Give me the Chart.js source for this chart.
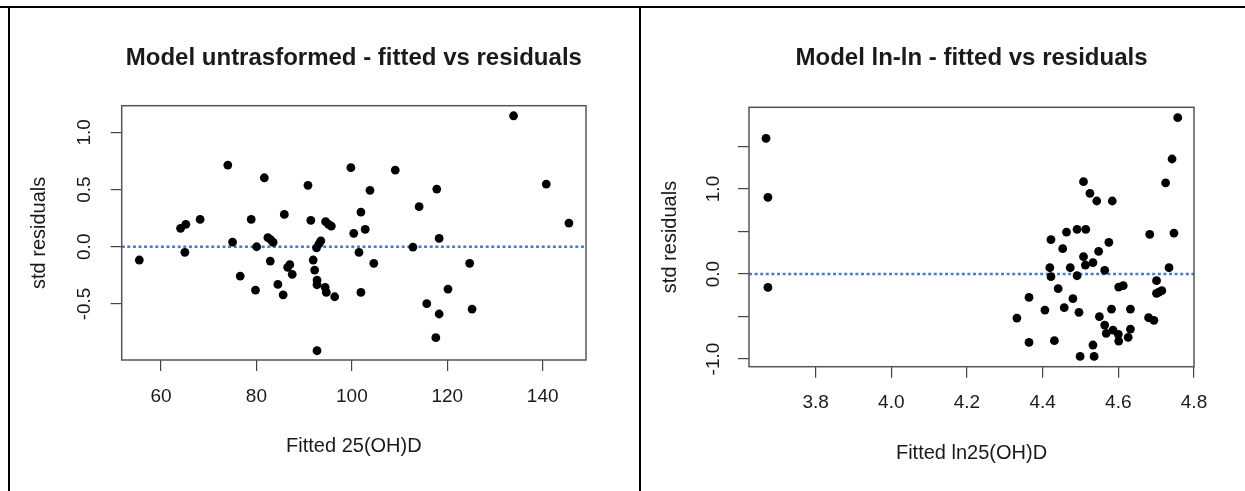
<!DOCTYPE html>
<html>
<head>
    <title>Fitted vs residuals</title>
    <script src="https://cdn.jsdelivr.net/npm/chart.js@4.4.0/dist/chart.umd.min.js"></script>
    <style>
        body { margin: 0; background: white; }
        #page { position: relative; width: 1245px; height: 491px; overflow: hidden; background: white; }
        .rule { position: absolute; background: black; }
        canvas { position: absolute; top: 0; }
    </style>
</head>
<body>
<div id="page">
    <div class="rule" style="left:0; top:6px; width:1245px; height:2px;"></div>
    <div class="rule" style="left:8px; top:6px; width:2px; height:485px;"></div>
    <div class="rule" style="left:639px; top:6px; width:2px; height:485px;"></div>
    <canvas id="leftPlot" width="639" height="491" style="left:0;"></canvas>
    <canvas id="rightPlot" width="604" height="491" style="left:641px;"></canvas>
</div>
<script>
    // left model: untransformed
    const leftFitted = [55.45, 64.1, 65.2, 65.0, 68.2, 74.0, 75.0, 76.6, 78.9, 79.8, 80.05, 81.65, 82.4, 83.05, 83.5, 82.9, 84.5, 85.6, 85.85, 86.55,
        87.0, 87.5, 90.8, 91.4, 91.9, 92.2, 92.7, 92.7, 92.6, 93.1, 93.5, 92.7, 94.5, 95.1, 95.7, 94.4, 94.65, 96.4, 99.8, 100.4,
        101.5, 101.9, 102.8, 101.9, 103.8, 104.6, 109.1, 112.8, 114.1, 115.7, 117.8, 117.6, 118.3, 118.3, 120.15, 124.7, 125.2, 133.9, 140.75, 145.5];
    const leftResid = [-0.116, 0.161, 0.196, -0.049, 0.239, 0.714, 0.041, -0.256, 0.239, -0.379, 0.0, 0.603, 0.079, 0.059, 0.038, -0.125, -0.329, -0.42, 0.283, -0.18,
        -0.157, -0.241, 0.537, 0.231, -0.116, -0.204, -0.291, -0.332, -0.009, 0.024, 0.052, -0.909, 0.219, 0.196, 0.181, -0.355, -0.399, -0.437, 0.691, 0.117,
        -0.049, 0.303, 0.152, -0.399, 0.493, -0.145, 0.670, -0.003, 0.35, -0.498, 0.504, -0.795, 0.073, -0.588, -0.37, -0.145, -0.545, 1.145, 0.548, 0.207];
    const leftXTicks = [60, 80, 100, 120, 140];
    const leftXLabels = ['60', '80', '100', '120', '140'];
    const leftYTicks = [-0.5, 0, 0.5, 1.0];
    const leftYLabels = ['-0.5', '0.0', '0.5', '1.0'];

    // right model: ln-ln
    const rightFitted = [3.669, 3.674, 3.674, 4.757, 4.742, 4.725, 4.747, 4.734, 4.701, 4.715, 4.701, 4.707, 4.683, 4.680, 4.694,
        4.508, 4.525, 4.543, 4.584, 4.422, 4.463, 4.491, 4.514, 4.453, 4.575, 4.548, 4.508, 4.513, 4.533, 4.473, 4.419, 4.422, 4.491, 4.564,
        4.601, 4.613, 4.441, 4.480, 4.364, 4.406, 4.457, 4.496, 4.332, 4.582, 4.632, 4.550, 4.564, 4.568, 4.586, 4.600, 4.601, 4.626, 4.632,
        4.364, 4.431, 4.533, 4.499, 4.536];
    const rightResid = [1.596, 0.902, -0.157, 1.839, 1.353, 1.071, 0.482, 0.074, -0.078, -0.196, -0.227, -0.212, 0.467, -0.514, -0.545,
        1.086, 0.949, 0.859, 0.859, 0.404, 0.494, 0.526, 0.526, 0.298, 0.373, 0.267, 0.204, 0.106, 0.133, 0.074, 0.074, -0.031, -0.020, 0.043,
        -0.153, -0.137, -0.172, -0.290, -0.275, -0.424, -0.396, -0.451, -0.518, -0.412, -0.412, -0.502, -0.600, -0.698, -0.659, -0.709, -0.788, -0.745, -0.647,
        -0.804, -0.784, -0.835, -0.969, -0.969];
    const rightXTicks = [3.8, 4.0, 4.2, 4.4, 4.6, 4.8];
    const rightXLabels = ['3.8', '4.0', '4.2', '4.4', '4.6', '4.8'];
    const rightYTicks = [-1.0, -0.5, 0, 0.5, 1.0, 1.5];
    const rightYLabels = ['-1.0', '', '0.0', '', '1.0', ''];

    const FONT = '"Liberation Sans", Arial, Helvetica, sans-serif';
    const INK = '#1a1a1a';

    // R-style rotated y tick labels, placed with the y scale
    const rotatedYLabels = {
        id: 'rotatedYLabels',
        afterDraw(chart, args, opts) {
            const ys = chart.scales.y;
            const ctx = chart.ctx;
            ctx.save();
            ctx.font = '19px ' + FONT;
            ctx.fillStyle = INK;
            ctx.textAlign = 'center';
            ctx.textBaseline = 'middle';
            ys.ticks.forEach(t => {
                if (!t.label) return;
                ctx.save();
                ctx.translate(ys.right - opts.gap, ys.getPixelForValue(t.value));
                ctx.rotate(-Math.PI / 2);
                ctx.fillText(t.label, 0, 0);
                ctx.restore();
            });
            ctx.restore();
        }
    };
    // box around plot region
    const plotBox = {
        id: 'plotBox',
        afterDraw(chart) {
            const a = chart.chartArea;
            const ctx = chart.ctx;
            ctx.save();
            ctx.strokeStyle = '#555';
            ctx.lineWidth = 1.5;
            ctx.strokeRect(a.left, a.top, a.right - a.left, a.bottom - a.top);
            ctx.restore();
        }
    };

    function makePlot(id, cfg) {
        var points = cfg.xs.map((x, i) => ({x: x, y: cfg.ys[i]}));
        return new Chart(document.getElementById(id), {
            type: 'scatter',
            data: {
                datasets: [{
                    data: points,
                    backgroundColor: 'black',
                    borderWidth: 0,
                    pointRadius: 4.4,
                    pointHoverRadius: 4.4
                }, {
                    type: 'line',
                    data: [{x: cfg.xmin, y: 0}, {x: cfg.xmax, y: 0}],
                    borderColor: '#4a7cc0',
                    borderWidth: 2.5,
                    borderDash: [3, 2.6],
                    pointRadius: 0,
                    fill: false
                }]
            },
            options: {
                responsive: false,
                animation: false,
                devicePixelRatio: 1,
                layout: { padding: { left: 0, right: cfg.padRight, top: 0, bottom: 0 } },
                plugins: {
                    legend: { display: false },
                    tooltip: { enabled: false },
                    title: {
                        display: true,
                        text: cfg.title,
                        fullSize: false,
                        color: INK,
                        font: { family: FONT, size: 24, weight: 'bold' },
                        padding: { top: cfg.titleTop, bottom: cfg.titleBottom }
                    },
                    rotatedYLabels: { gap: cfg.yLabelGap }
                },
                scales: {
                    x: {
                        type: 'linear',
                        min: cfg.xmin,
                        max: cfg.xmax,
                        afterBuildTicks: s => { s.ticks = cfg.xTicks.map(v => ({value: v})); },
                        afterFit: s => { s.height = cfg.xAxisHeight; },
                        ticks: {
                            callback: (v, i) => cfg.xLabels[i],
                            color: INK,
                            font: { family: FONT, size: 19 },
                            padding: 14,
                            maxRotation: 0,
                            autoSkip: false
                        },
                        grid: { drawOnChartArea: false, drawTicks: true, tickLength: 11, color: '#444', lineWidth: 1.2 },
                        border: { display: false },
                        title: {
                            display: true,
                            text: cfg.xTitle,
                            color: INK,
                            font: { family: FONT, size: 20 },
                            padding: { top: 0, bottom: cfg.xTitlePad }
                        }
                    },
                    y: {
                        type: 'linear',
                        min: cfg.ymin,
                        max: cfg.ymax,
                        afterBuildTicks: s => { s.ticks = cfg.yTicks.map(v => ({value: v})); },
                        afterFit: s => { s.width = cfg.yAxisWidth; },
                        ticks: {
                            display: false,
                            callback: (v, i) => cfg.yLabels[i]
                        },
                        grid: { drawOnChartArea: false, drawTicks: true, tickLength: 11, color: '#444', lineWidth: 1.2 },
                        border: { display: false },
                        title: {
                            display: true,
                            text: 'std residuals',
                            color: INK,
                            font: { family: FONT, size: 20 },
                            padding: { top: cfg.yTitlePad, bottom: 0 }
                        }
                    }
                }
            },
            plugins: [rotatedYLabels, plotBox]
        });
    }

    makePlot('leftPlot', {
        xs: leftFitted, ys: leftResid,
        xmin: 51.76, xmax: 149.08, ymin: -0.99, ymax: 1.233,
        xTicks: leftXTicks, xLabels: leftXLabels, yTicks: leftYTicks, yLabels: leftYLabels,
        title: 'Model untrasformed - fitted vs residuals',
        xTitle: 'Fitted 25(OH)D',
        padRight: 53, titleTop: 43.6, titleBottom: 33.3,
        xAxisHeight: 131, yAxisWidth: 121.7,
        xTitlePad: 32.3, yTitlePad: 27, yLabelGap: 36.7
    });

    makePlot('rightPlot', {
        xs: rightFitted, ys: rightResid,
        xmin: 3.624, xmax: 4.80, ymin: -1.09, ymax: 1.961,
        xTicks: rightXTicks, xLabels: rightXLabels, yTicks: rightYTicks, yLabels: rightYLabels,
        title: 'Model ln-ln - fitted vs residuals',
        xTitle: 'Fitted ln25(OH)D',
        padRight: 51, titleTop: 43.6, titleBottom: 34.9,
        xAxisHeight: 124.3, yAxisWidth: 108,
        xTitlePad: 26, yTitlePad: 17, yLabelGap: 35
    });
</script>
</body>
</html>
